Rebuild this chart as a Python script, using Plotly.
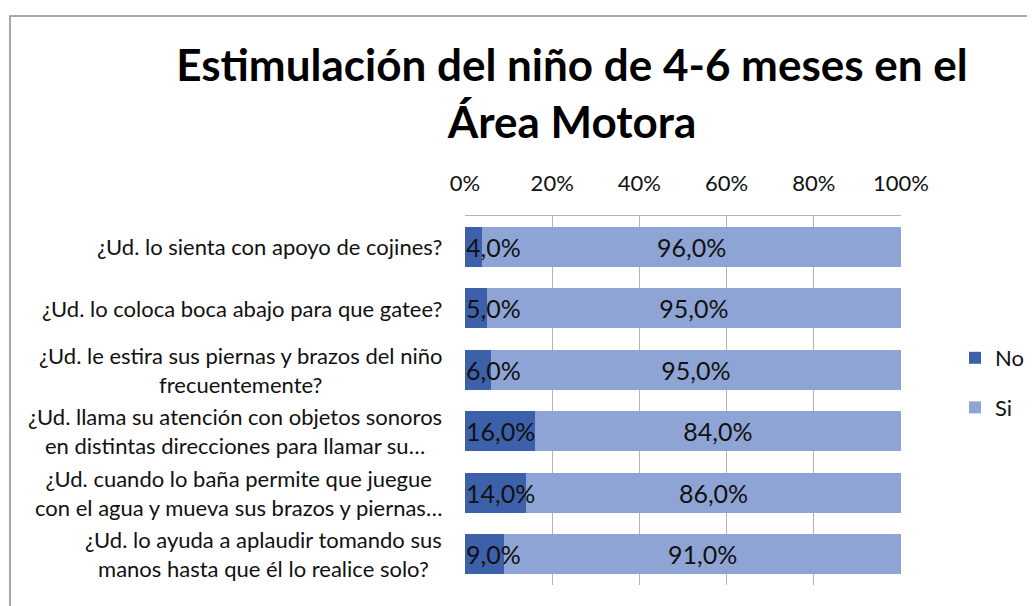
import plotly.graph_objects as go

categories = [
    "¿Ud. lo sienta con apoyo de cojines?",
    "¿Ud. lo coloca boca abajo para que gatee?",
    "¿Ud. le estira sus piernas y brazos del niño<br>frecuentemente?",
    "¿Ud. llama su atención con objetos sonoros<br>en distintas direcciones para llamar su…",
    "¿Ud. cuando lo baña permite que juegue<br>con el agua y mueva sus brazos y piernas…",
    "¿Ud. lo ayuda a aplaudir tomando sus<br>manos hasta que él lo realice solo?",
]
no_vals = [4.0, 5.0, 6.0, 16.0, 14.0, 9.0]
si_vals = [96.0, 95.0, 95.0, 84.0, 86.0, 91.0]
tick_vals = [0, 20, 40, 60, 80, 100]
tick_text = ["0%", "20%", "40%", "60%", "80%", "100%"]

ids = list(range(len(categories)))

def fmt(v):
    return f"{v:.1f}".replace(".", ",") + "%"

FONT = "Lato"
C_NO = "#3C61AA"
C_SI = "#8EA4D4"
TXT = "#111111"

# page has an 8px body margin; figure is sized to fill the rest of the window
W, H = 1027, 598
L, R, T, B = 457, 134, 208, 21
PW, PH = W - L - R, H - T - B

fig = go.Figure()
fig.add_trace(go.Bar(
    y=ids, x=no_vals, orientation="h", name="No",
    marker=dict(color=C_NO, line=dict(width=0)),
    legendgroup="a", legendrank=1, hoverinfo="skip",
))
fig.add_trace(go.Bar(
    y=ids, x=si_vals, orientation="h", name="Si",
    marker=dict(color=C_SI, line=dict(width=0)),
    text=[fmt(v) for v in si_vals], textposition="inside",
    insidetextanchor="middle", textangle=0, constraintext="none",
    textfont=dict(family=FONT, size=25, color=TXT),
    legendgroup="b", legendrank=2, hoverinfo="skip",
))

annotations = []
for i, c in enumerate(categories):
    annotations.append(dict(
        xref="paper", yref="y", x=-21 / PW, y=i, xanchor="right",
        yanchor="middle", align="center", showarrow=False, text=c,
        font=dict(family=FONT, size=22, color=TXT),
    ))
# "No" value labels drawn on top of both segments, starting at the 0% edge
for i, v in enumerate(no_vals):
    annotations.append(dict(
        xref="x", yref="y", x=0, y=i, xanchor="left", yanchor="middle",
        showarrow=False, text=fmt(v), borderpad=0,
        font=dict(family=FONT, size=25, color=TXT),
    ))

fig.update_layout(
    width=W, height=H,
    margin=dict(l=L, r=R, t=T, b=B, pad=0),
    paper_bgcolor="white", plot_bgcolor="white",
    barmode="stack", barnorm="percent", bargap=0.35,
    showlegend=True,
    title=dict(
        text="<b>Estimulación del niño de 4-6 meses en el<br>Área Motora</b>",
        x=564 / W, xanchor="center", y=1 - 73 / H, yanchor="top",
        font=dict(family=FONT, size=44, color="#000000"),
    ),
    xaxis=dict(
        side="top", range=[0, 100], tickvals=tick_vals, ticktext=tick_text,
        showgrid=True, gridcolor="#B3B3B3", gridwidth=1,
        showline=True, linecolor="#B3B3B3", linewidth=1,
        zeroline=False, ticks="", ticklabelstandoff=15,
        tickfont=dict(family=FONT, size=22, color=TXT),
        fixedrange=True,
    ),
    yaxis=dict(
        autorange="reversed", showticklabels=False, showgrid=False,
        zeroline=False, showline=False, ticks="", fixedrange=True,
    ),
    legend=dict(
        xref="container", yref="container",
        x=947 / W, xanchor="left", y=1 - 375 / H,
        yanchor="middle", traceorder="grouped", tracegroupgap=18,
        font=dict(family=FONT, size=22, color=TXT),
        bgcolor="rgba(0,0,0,0)",
    ),
    annotations=annotations,
    shapes=[dict(
        type="rect", xref="paper", yref="paper",
        x0=(2 - L) / PW, x1=(W + 60 - L) / PW,
        y0=-(B + 60) / PH, y1=(H - B - 8) / PH,
        line=dict(color="#8C8C8C", width=1.5), fillcolor="rgba(0,0,0,0)",
        layer="below",
    )],
)

fig.write_html("out.html")
